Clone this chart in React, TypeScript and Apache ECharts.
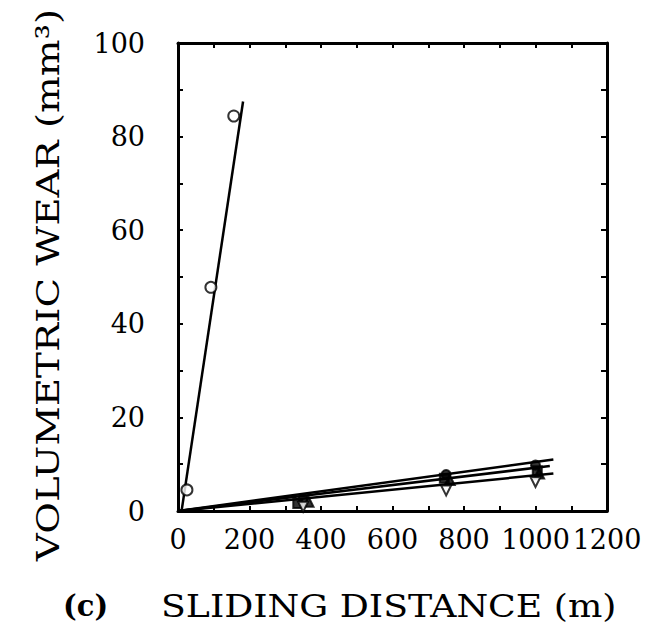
import React, { useEffect, useRef } from "react";
import * as echarts from "echarts";

// Tick labels
const xTickLabels = [0, 200, 400, 600, 800, 1000, 1200];
const yTickLabels = [0, 20, 40, 60, 80, 100];

// Steep series (open circles) and its fit line
const steepPoints: [number, number][] = [[25, 4.5], [92, 47.8], [156, 84.4]];
const steepFit: [number, number][] = [[10, 0], [182, 87.5]];

// Lower series points
const filledCircles: [number, number][] = [[350, 2.6], [750, 7.8], [1000, 9.8]];
const filledSquares: [number, number][] = [[335, 1.6], [745, 7.0], [1005, 8.6]];
const filledTriangles: [number, number][] = [[365, 2.0], [760, 6.6], [1010, 8.0]];
const openTrianglesDown: [number, number][] = [[350, 0.9], [750, 4.4], [1000, 6.2]];

// Lower fit lines
const fitA: [number, number][] = [[0, 0], [1050, 11.0]];
const fitB: [number, number][] = [[0, 0], [1040, 9.6]];
const fitC: [number, number][] = [[0, 0], [1050, 8.0]];

const FONT = "DejaVu Serif";

export default function App() {
  const ref = useRef<HTMLDivElement>(null);
  useEffect(() => {
    const chart = echarts.init(ref.current!, null, { renderer: "svg" });
    const axisLine = { show: true, onZero: false, lineStyle: { color: "#000", width: 3 } };
    const tick = (len: number) => ({
      show: true,
      inside: true,
      length: len,
      lineStyle: { color: "#000", width: 2 },
    });
    const lineSeries = (data: [number, number][]) => ({
      type: "line",
      xAxisIndex: 0,
      yAxisIndex: 0,
      data,
      symbol: "none",
      lineStyle: { color: "#000", width: 2.5 },
      silent: true,
      z: 3,
    });
    const scatter = (data: [number, number][], symbol: string, filled: boolean, size: number, rotate = 0) => ({
      type: "scatter",
      xAxisIndex: 0,
      yAxisIndex: 0,
      data,
      symbol,
      symbolSize: size,
      symbolRotate: rotate,
      itemStyle: {
        color: filled ? "#000" : "#fff",
        borderColor: "#000",
        borderWidth: 2,
      },
      z: 4,
    });
    chart.setOption({
      animation: false,
      backgroundColor: "#fff",
      grid: { left: 170, top: 35, width: 429, height: 468, containLabel: false },
      xAxis: [
        {
          type: "value",
          min: 0,
          max: 1200,
          interval: 100,
          position: "bottom",
          axisLine,
          axisTick: tick(5),
          splitLine: { show: false },
          axisLabel: {
            margin: 15,
            color: "#000",
            fontFamily: FONT,
            fontSize: 27,
            formatter: (v: number) => (xTickLabels.includes(v) ? String(v) : ""),
          },
        },
        {
          type: "value",
          min: 0,
          max: 1200,
          interval: 100,
          position: "top",
          axisLine,
          axisTick: tick(5),
          splitLine: { show: false },
          axisLabel: { show: false },
        },
      ],
      yAxis: [
        {
          type: "value",
          min: 0,
          max: 100,
          interval: 10,
          position: "left",
          axisLine,
          axisTick: tick(5),
          splitLine: { show: false },
          axisLabel: {
            margin: 33,
            color: "#000",
            fontFamily: FONT,
            fontSize: 27,
            formatter: (v: number) => (yTickLabels.includes(v) ? String(v) : ""),
          },
        },
        {
          type: "value",
          min: 0,
          max: 100,
          interval: 10,
          position: "right",
          axisLine,
          axisTick: tick(6),
          splitLine: { show: false },
          axisLabel: { show: false },
        },
      ],
      graphic: [
        {
          type: "text",
          x: 55,
          y: 598,
          style: {
            text: "(c)",
            font: `bold 29px "${FONT}"`,
            fill: "#000",
            textAlign: "left",
            textVerticalAlign: "middle",
          },
        },
        {
          type: "text",
          x: 153,
          y: 598,
          scaleX: 1.17,
          style: {
            text: "SLIDING DISTANCE (m)",
            font: `31px "${FONT}"`,
            fill: "#000",
            textAlign: "left",
            textVerticalAlign: "middle",
          },
        },
        {
          type: "text",
          x: 40,
          y: 277,
          rotation: Math.PI / 2,
          scaleX: 1.25,
          style: {
            text: "VOLUMETRIC WEAR (mm³)",
            font: `31px "${FONT}"`,
            fill: "#000",
            textAlign: "center",
            textVerticalAlign: "middle",
          },
        },
      ],
      series: [
        lineSeries(steepFit),
        scatter(steepPoints, "circle", false, 11),
        lineSeries(fitA),
        lineSeries(fitB),
        lineSeries(fitC),
        scatter(filledCircles, "circle", true, 9),
        scatter(filledSquares, "rect", true, 9),
        scatter(filledTriangles, "triangle", true, 10),
        scatter(openTrianglesDown, "triangle", false, 10, 180),
      ],
    });
    return () => chart.dispose();
  }, []);
  return <div ref={ref} style={{ width: 638, height: 624 }} />;
}
